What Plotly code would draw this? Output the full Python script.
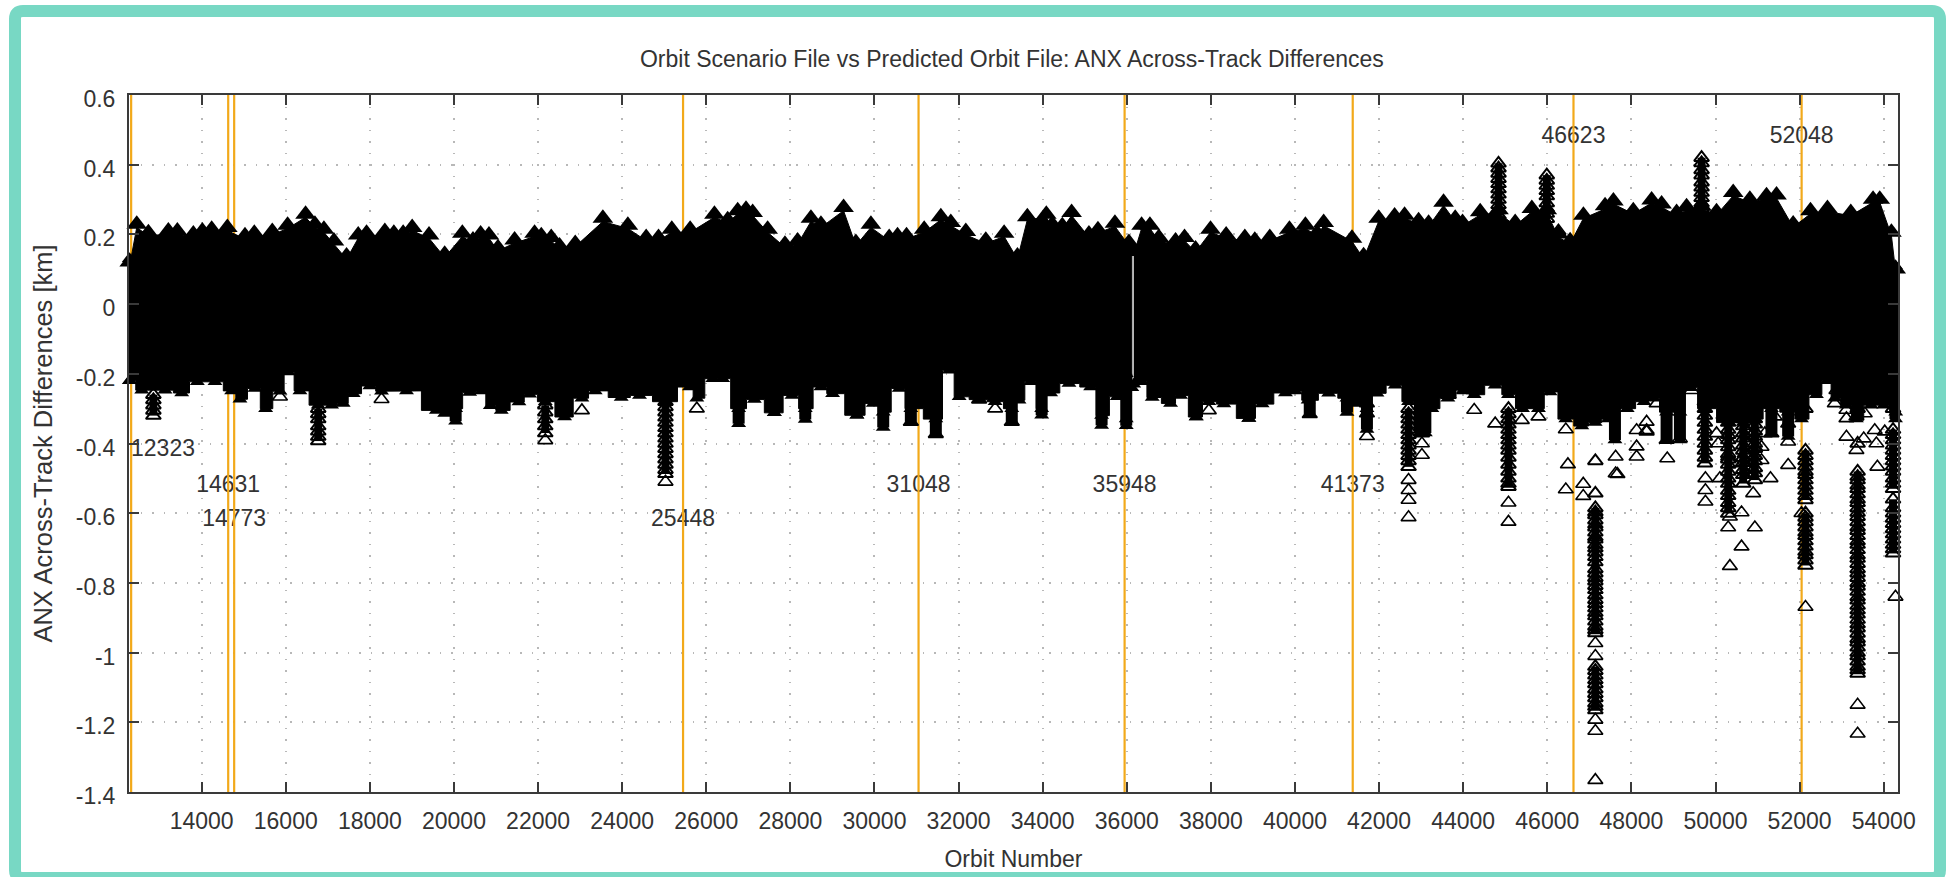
import plotly.graph_objects as go

# ---- data ----
y_ticks = [0.6, 0.4, 0.2, 0, -0.2, -0.4, -0.6, -0.8, -1, -1.2, -1.4]
y_tick_text = ["0.6", "0.4", "0.2", "0", "-0.2", "-0.4", "-0.6", "-0.8", "-1", "-1.2", "-1.4"]
x_ticks = [14000, 16000, 18000, 20000, 22000, 24000, 26000, 28000, 30000, 32000, 34000,
           36000, 38000, 40000, 42000, 44000, 46000, 48000, 50000, 52000, 54000]
x_tick_text = ["14000", "16000", "18000", "20000", "22000", "24000", "26000", "28000", "30000", "32000", "34000",
               "36000", "38000", "40000", "42000", "44000", "46000", "48000", "50000", "52000", "54000"]

event_orbits = [12323, 14631, 14773, 25448, 31048, 35948, 41373, 46623, 52048]
label_text = ["12323", "14631", "14773", "25448", "31048", "35948", "41373", "46623", "52048"]
label_orbit = [13081, 14631, 14773, 25448, 31048, 35948, 41373, 46623, 52048]
label_km = [-0.42, -0.522, -0.62, -0.62, -0.522, -0.522, -0.522, 0.48, 0.48]

# upper edge of the dense cloud
top_orbit = [12290, 12456, 12733, 13208, 13422, 13802, 14016, 14238, 14610, 15030, 15252, 15679, 16044,
             16471, 16693, 16907, 17145, 17446, 17723, 17921, 18356, 18570, 18792, 19006, 19407, 19779,
             20199, 20452, 20634, 20832, 21046, 21442, 21917, 22076, 22313, 22511, 22884, 23541, 24135,
             24571, 24864, 25180, 25616, 26194, 26509, 26747, 26945, 27103, 27459, 27871, 28172, 28489,
             28727, 29265, 29558, 29915, 30350, 30548, 30762, 31182, 31578, 31815, 32172, 32647, 33083,
             33400, 33635, 34086, 34229, 34467, 34688, 35100, 35314, 35718, 36051, 36120, 36165, 36352,
             36550, 36763, 37159, 37373, 37635, 37991, 38363, 38807, 39044, 39401, 39868, 40248, 40526,
             40682, 41355, 41632, 41989, 42369, 42606, 42939, 43177, 43533, 43810, 43984, 44404, 44840,
             45236, 45632, 45988, 46265, 46543, 46859, 47374, 47572, 48045, 48481, 48718, 49075, 49312,
             49669, 50025, 50421, 50817, 51213, 51451, 51847, 52259, 52662, 53217, 53747, 53906, 54183,
             54285]
top_km = [0.13, 0.238, 0.214, 0.219, 0.219, 0.21, 0.219, 0.224, 0.229, 0.205, 0.212, 0.217, 0.235,
          0.267, 0.238, 0.224, 0.19, 0.147, 0.207, 0.212, 0.217, 0.212, 0.212, 0.229, 0.207, 0.152,
          0.212, 0.193, 0.21, 0.207, 0.171, 0.193, 0.212, 0.205, 0.2, 0.176, 0.183, 0.255, 0.235,
          0.2, 0.2, 0.224, 0.224, 0.267, 0.251, 0.277, 0.281, 0.272, 0.224, 0.181, 0.19, 0.255,
          0.238, 0.286, 0.186, 0.238, 0.2, 0.205, 0.205, 0.224, 0.26, 0.243, 0.217, 0.192, 0.212,
          0.147, 0.26, 0.267, 0.238, 0.234, 0.272, 0.21, 0.222, 0.241, 0.186, 0.16, 0.16, 0.235,
          0.235, 0.2, 0.19, 0.2, 0.167, 0.224, 0.207, 0.2, 0.192, 0.2, 0.224, 0.235, 0.214,
          0.243, 0.198, 0.148, 0.255, 0.262, 0.264, 0.248, 0.241, 0.301, 0.255, 0.243, 0.274, 0.28,
          0.243, 0.283, 0.28, 0.21, 0.191, 0.264, 0.291, 0.305, 0.277, 0.308, 0.296, 0.272, 0.288,
          0.29, 0.274, 0.329, 0.31, 0.32, 0.322, 0.239, 0.277, 0.283, 0.272, 0.31, 0.31, 0.215,
          0.11]

# lower edge of the dense cloud
low_orbit = [12290, 12575, 13129, 13525, 13897, 14317, 14713, 14911, 15268, 15521, 15862, 16060, 16337,
             16772, 17089, 17366, 17604, 18000, 18277, 18871, 19581, 19779, 20040, 20373, 20650, 20864,
             21125, 21545, 21798, 22171, 22630, 23042, 23359, 23977, 24412, 25030, 25600, 25775, 26155,
             26390, 26770, 27143, 27618, 28038, 28354, 28727, 29004, 29582, 29970, 30208, 30588, 30865,
             31459, 31776, 32013, 32489, 32869, 33265, 33437, 33714, 33976, 34189, 34625, 35140, 35401,
             35773, 35987, 36120, 36165, 36352, 36605, 37041, 37278, 37650, 37951, 38308, 38902, 39219,
             39773, 40011, 40312, 40801, 41236, 41474, 41711, 41949, 42385, 42701, 43018, 43256, 43636,
             44024, 44262, 44761, 45077, 45410, 45790, 46067, 46440, 46820, 47137, 47451, 47900, 48300,
             48500, 48837, 49154, 49400, 49748, 50302, 50659, 50936, 51330, 51728, 52045, 52400, 52660,
             52837, 53114, 53351, 53700, 54000, 54285]
low_km = [-0.22, -0.247, -0.247, -0.255, -0.223, -0.223, -0.249, -0.273, -0.242, -0.3, -0.25, -0.195, -0.249,
          -0.29, -0.29, -0.285, -0.257, -0.235, -0.25, -0.249, -0.305, -0.314, -0.3, -0.254, -0.249, -0.292,
          -0.305, -0.281, -0.259, -0.28, -0.324, -0.27, -0.249, -0.268, -0.262, -0.28, -0.238, -0.27, -0.214,
          -0.214, -0.3, -0.274, -0.312, -0.262, -0.3, -0.238, -0.257, -0.319, -0.285, -0.31, -0.242, -0.3,
          -0.33, -0.19, -0.266, -0.274, -0.28, -0.3, -0.276, -0.223, -0.3, -0.255, -0.228, -0.238, -0.32,
          -0.266, -0.33, -0.24, -0.23, -0.223, -0.268, -0.285, -0.262, -0.324, -0.28, -0.287, -0.328, -0.287,
          -0.255, -0.249, -0.276, -0.256, -0.27, -0.285, -0.3, -0.256, -0.233, -0.28, -0.3, -0.3, -0.27,
          -0.247, -0.26, -0.233, -0.26, -0.3, -0.3, -0.252, -0.33, -0.35, -0.34, -0.33, -0.3, -0.28,
          -0.27, -0.31, -0.31, -0.24, -0.3, -0.34, -0.34, -0.33, -0.3, -0.31, -0.33, -0.26, -0.22,
          -0.27, -0.29, -0.33, -0.29, -0.29, -0.31]

# solid vertical runs of overlapping triangles
run_orbit = [12280, 20040, 26770, 27618, 28354, 29582, 30208, 30865, 31459, 33265,
             33976, 35401, 35987, 37650, 38902, 40351, 41236, 41711, 42970, 43100, 47609, 48837, 49154,
             51330, 51728, 54280]
run_top = [0.13, -0.2, -0.2, -0.2, -0.2, -0.2, -0.2, -0.2, -0.2, -0.2,
           -0.2, -0.2, -0.2, -0.2, -0.2, -0.2, -0.2, -0.2, -0.2, -0.2, -0.2, -0.2, -0.2,
           -0.2, -0.2, 0.11]
run_low = [-0.22, -0.336, -0.343, -0.312, -0.331, -0.319, -0.354, -0.338, -0.373, -0.338,
           -0.319, -0.348, -0.349, -0.324, -0.328, -0.316, -0.311, -0.36, -0.37, -0.37, -0.39, -0.39, -0.39,
           -0.37, -0.38, -0.33]

# columns where individual stacked triangles can be told apart
column_orbit = [47143, 53380, 52140, 54222, 25030, 42701, 45077, 16772, 22171, 12852, 44840, 45988, 49669,
                50302, 50659, 50936, 49748]
column_km = [
    [-0.3, -0.45, -0.543, -0.585, -0.597, -0.605, -0.62, -0.632, -0.64, -0.655, -0.668, -0.675, -0.69, -0.7, -0.712, -0.725,
     -0.74, -0.76, -0.772, -0.785, -0.795, -0.808, -0.82, -0.835, -0.848, -0.86, -0.872, -0.885, -0.895, -0.91, -0.925,
     -0.935, -0.944, -1.04, -1.052, -1.065, -1.078, -1.09, -1.105, -1.118, -1.13, -1.145, -1.155, -1.165],
    [-0.3, -0.4, -0.48, -0.495, -0.505, -0.52, -0.53, -0.545, -0.56, -0.57, -0.585, -0.598, -0.61, -0.625, -0.64, -0.65, -0.665, -0.68,
     -0.69, -0.705, -0.72, -0.73, -0.745, -0.76, -0.772, -0.785, -0.8, -0.81, -0.825, -0.84, -0.85, -0.865, -0.878,
     -0.89, -0.905, -0.918, -0.93, -0.945, -0.96, -0.97, -0.985, -1.0, -1.01, -1.025, -1.04, -1.05, -1.06],
    [-0.3, -0.42, -0.435, -0.45, -0.465, -0.48, -0.49, -0.505, -0.52, -0.535, -0.55, -0.562, -0.6, -0.612, -0.625, -0.64, -0.655,
     -0.665, -0.68, -0.695, -0.71, -0.72, -0.735, -0.75],
    [-0.3, -0.36, -0.375, -0.39, -0.405, -0.42, -0.435, -0.45, -0.465, -0.48, -0.5, -0.515, -0.53, -0.56, -0.585, -0.6, -0.615,
     -0.63, -0.645, -0.66, -0.675, -0.69, -0.703, -0.715],
    [-0.28, -0.295, -0.31, -0.325, -0.34, -0.355, -0.37, -0.385, -0.4, -0.415, -0.43, -0.445, -0.46, -0.475, -0.487],
    [-0.3, -0.315, -0.33, -0.345, -0.36, -0.375, -0.39, -0.405, -0.42, -0.435, -0.45, -0.467],
    [-0.3, -0.315, -0.33, -0.345, -0.36, -0.375, -0.39, -0.405, -0.42, -0.44, -0.46, -0.48, -0.5, -0.515, -0.524],
    [-0.3, -0.315, -0.33, -0.35, -0.365, -0.38, -0.393],
    [-0.29, -0.31, -0.33, -0.35, -0.37],
    [-0.26, -0.275, -0.29, -0.305, -0.32],
    [0.404, 0.39, 0.375, 0.36, 0.345, 0.33, 0.315, 0.3, 0.285, 0.27, 0.255],
    [0.37, 0.355, 0.34, 0.325, 0.31, 0.29, 0.275, 0.26, 0.245],
    [0.42, 0.405, 0.385, 0.37, 0.35, 0.335, 0.32, 0.305, 0.29, 0.275],
    [-0.34, -0.36, -0.375, -0.39, -0.41, -0.43, -0.445, -0.46, -0.48, -0.5, -0.515, -0.535, -0.55, -0.57, -0.585, -0.601],
    [-0.33, -0.35, -0.37, -0.385, -0.405, -0.42, -0.44, -0.455, -0.475, -0.49, -0.515],
    [-0.33, -0.345, -0.365, -0.38, -0.4, -0.415, -0.435, -0.45, -0.47, -0.485, -0.505],
    [-0.28, -0.3, -0.32, -0.34, -0.36, -0.38, -0.4, -0.42, -0.44, -0.457],
]

# isolated open triangles
lone_orbit = [18277, 15862, 22171, 23042, 25030, 25775, 30865, 32869, 33265, 40351, 37951, 41711, 42701, 42701, 42701,
              43018, 43018, 44262, 44761, 45077, 45077, 46440, 46490, 46855, 46855, 47668, 47625, 47625, 48124, 48124,
              48362, 48362, 48853, 49760, 49760, 49760, 50104, 50342, 50342, 50619, 50619, 50936, 50302, 50896, 51308,
              51094, 51728, 52140, 53850, 53826, 53114, 53525, 53351, 54280, 47143, 47143, 47143, 47143, 47143, 53380,
              53380, 46265, 42701, 46440, 52045, 44262, 44024, 32489, 31459,
              48124, 48362, 48600, 48837, 49154, 49431, 50025, 50065, 50302, 50777, 51094, 51330, 51728, 51728, 52876,
              52837, 53114, 53351, 53549, 53787, 54025, 53114, 51411, 51173, 50857, 50698, 50936, 50421,
              43018, 41711, 41711, 43652, 44246, 45394, 45790, 41474]
lone_km = [-0.273, -0.266, -0.391, -0.305, -0.51, -0.3, -0.338, -0.3, -0.338, -0.316, -0.305, -0.379, -0.505, -0.534, -0.562,
           -0.433, -0.4, -0.304, -0.343, -0.57, -0.625, -0.532, -0.46, -0.551, -0.516, -0.488, -0.486, -0.438, -0.438, -0.409,
           -0.366, -0.338, -0.443, -0.567, -0.534, -0.5, -0.5, -0.752, -0.61, -0.696, -0.598, -0.641, -0.641, -0.543, -0.5,
           -0.448, -0.462, -0.869, -0.467, -0.4, -0.381, -0.386, -0.419, -0.84, -0.973, -1.01, -1.193, -1.225, -1.366, -1.15,
           -1.233, 0.21, -0.612, -0.36, -0.6, -0.243, -0.247, -0.274, -0.373,
           -0.362, -0.362, -0.285, -0.39, -0.386, -0.247, -0.371, -0.4, -0.438, -0.467, -0.41, -0.371, -0.395, -0.343, -0.247,
           -0.285, -0.328, -0.323, -0.314, -0.362, -0.366, -0.304, -0.323, -0.371, -0.376, -0.429, -0.41, -0.457,
           -0.371, -0.314, -0.285, -0.261, -0.247, -0.333, -0.323, -0.271]

# ---- geometry of the page ----
W, H = 1949, 877
L, R, T, B = 129, 1898, 95, 792
def px(v): return (v - L) / (R - L)
def py(v): return (B - v) / (B - T)

INK = "#000000"
ORANGE = "#f2a91a"
TEXT = "#333333"
FONT = "Liberation Sans"
TOOTH_DROP = 0.018      # the solid polygon sits below the triangle apexes so the triangles stand proud
TOOTH_LIFT = 0.009      # keeps the larger crown triangles' apex on the read value

fig = go.Figure()

fig.add_trace(go.Scatter(x=label_orbit, y=label_km, mode="text", text=label_text,
                         textfont=dict(family=FONT, size=23, color=TEXT), textposition="middle center",
                         showlegend=False, cliponaxis=False))

for o in event_orbits:
    fig.add_trace(go.Scatter(x=[o, o], y=[y_ticks[-1], y_ticks[0]], mode="lines",
                             line=dict(color=ORANGE, width=2.2), showlegend=False))

# dense cloud, split at the data gap near orbit 36140
gap = 36140
def body(lo, hi):
    tx = [o for o in top_orbit if lo <= o < hi]
    ty = [k - TOOTH_DROP for o, k in zip(top_orbit, top_km) if lo <= o < hi]
    bx = [o for o in low_orbit if lo <= o < hi]
    by = [k for o, k in zip(low_orbit, low_km) if lo <= o < hi]
    # the lower edge is made of flat triangle bases, so it steps rather than slopes
    sx, sy = [bx[0]], [by[0]]
    for i in range(1, len(bx)):
        mid = (bx[i - 1] + bx[i]) / 2
        sx += [mid, mid, bx[i]]
        sy += [by[i - 1], by[i], by[i]]
    return tx + sx[::-1], ty + sy[::-1]

for lo, hi in ((0, gap), (gap, 10**6)):
    xs, ys = body(lo, hi)
    fig.add_trace(go.Scatter(x=xs, y=ys, mode="lines", fill="toself", fillcolor=INK,
                             line=dict(color=INK, width=1), showlegend=False, cliponaxis=False))

run_x, run_y = [], []
for o, a, b in zip(run_orbit, run_top, run_low):
    run_x += [o, o, None]
    run_y += [a, b, None]
fig.add_trace(go.Scatter(x=run_x, y=run_y, mode="lines", line=dict(color=INK, width=12),
                         showlegend=False, cliponaxis=False))
fig.add_trace(go.Scatter(x=run_x, y=run_y, mode="markers",
                         marker=dict(symbol="triangle-up", size=13, color=INK),
                         showlegend=False, cliponaxis=False))

col_x, col_y, core_x, core_y = [], [], [], []
for o, vals in zip(column_orbit, column_km):
    col_x += [o] * len(vals)
    col_y += vals
    for i, v in enumerate(vals):
        if i and abs(v - vals[i - 1]) > 0.03:   # a visible break in the stack
            core_x.append(None)
            core_y.append(None)
        core_x.append(o)
        core_y.append(v)
    core_x.append(None)
    core_y.append(None)
fig.add_trace(go.Scatter(x=core_x, y=core_y, mode="lines", line=dict(color=INK, width=8),
                         showlegend=False, cliponaxis=False))
fig.add_trace(go.Scatter(x=col_x, y=col_y, mode="markers",
                         marker=dict(symbol="triangle-up-open", size=13, color=INK,
                                     line=dict(width=2, color=INK)),
                         showlegend=False, cliponaxis=False))

fig.add_trace(go.Scatter(x=top_orbit, y=[k - TOOTH_LIFT for k in top_km], mode="markers",
                         marker=dict(symbol="triangle-up", size=18, color=INK),
                         showlegend=False, cliponaxis=False))
fig.add_trace(go.Scatter(x=low_orbit, y=low_km, mode="markers",
                         marker=dict(symbol="triangle-up", size=13, color=INK),
                         showlegend=False, cliponaxis=False))
fig.add_trace(go.Scatter(x=lone_orbit, y=lone_km, mode="markers",
                         marker=dict(symbol="triangle-up-open", size=13, color=INK,
                                     line=dict(width=1.6, color=INK)),
                         showlegend=False, cliponaxis=False))

# rounded teal page frame, expressed in paper coordinates
def frame(x0, y0, x1, y1, r):
    a, b, c, d = px(x0), px(x1), py(y0), py(y1)
    rx, ry = r / (R - L), r / (B - T)
    return (f"M{a + rx},{c} L{b - rx},{c} Q{b},{c} {b},{c - ry} L{b},{d + ry} Q{b},{d} {b - rx},{d} "
            f"L{a + rx},{d} Q{a},{d} {a},{d + ry} L{a},{c - ry} Q{a},{c} {a + rx},{c} Z")

fig.add_shape(type="path", xref="paper", yref="paper", layer="below",
              path=frame(15, 11, 1940, 878, 8),
              line=dict(color="#78d8c4", width=12), fillcolor="white")

axis_common = dict(showline=True, linecolor="#3a3a3a", linewidth=2, mirror="ticks", ticks="inside",
                   ticklen=10, tickwidth=1.5, tickcolor="#3a3a3a", showgrid=True, gridcolor="#b8b8b8",
                   griddash="1.5px,10px", gridwidth=1.5, zeroline=False, ticklabelstandoff=7,
                   tickfont=dict(family=FONT, size=23, color=TEXT))

fig.update_layout(
    width=W, height=H, paper_bgcolor="white", plot_bgcolor="white",
    margin=dict(l=L, r=W - R, t=T, b=H - B, autoexpand=False),
    showlegend=False,
    title=dict(text="Orbit Scenario File vs Predicted Orbit File: ANX Across-Track Differences",
               font=dict(family=FONT, size=23, color=TEXT), x=0.5192, xanchor="center",
               y=1 - 59 / H, yanchor="middle"),
    xaxis=dict(range=[12272, 54340], tickvals=x_ticks, ticktext=x_tick_text,
               title=dict(text="Orbit Number", standoff=18, font=dict(family=FONT, size=23, color=TEXT)),
               **axis_common),
    yaxis=dict(range=[-1.4, 0.6], tickvals=y_ticks, ticktext=y_tick_text, ticklabelshift=4,
               title=dict(text="ANX Across-Track Differences [km]", standoff=16,
                          font=dict(family=FONT, size=25.5, color=TEXT)), **axis_common),
)

fig.write_html("out.html", config={"displayModeBar": False},
               post_script="document.body.style.margin='0';")
